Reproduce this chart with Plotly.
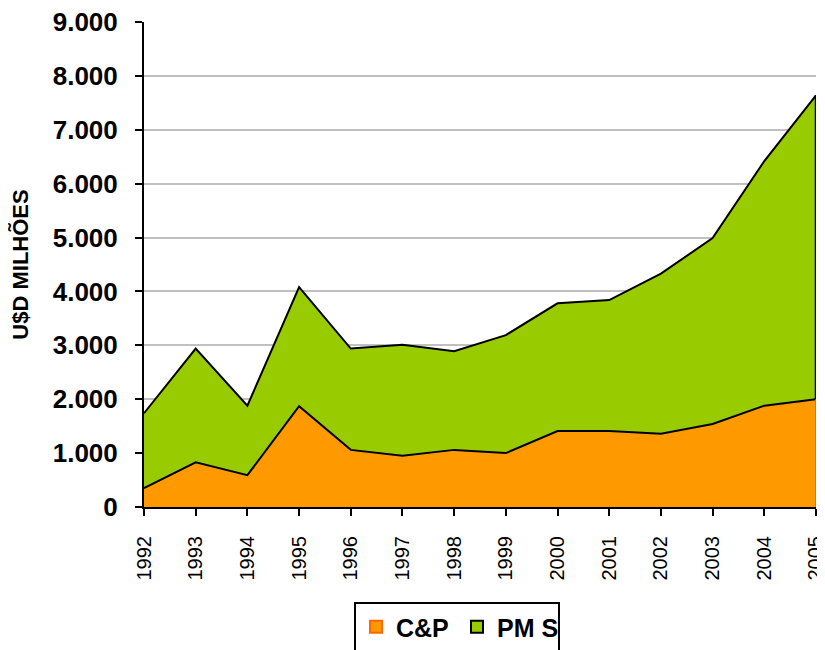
import plotly.graph_objects as go

years = list(range(1992, 2006))
cp = [350, 830, 590, 1870, 1060, 950, 1060, 1000, 1410, 1410, 1360, 1540, 1880, 2000]
total = [1740, 2940, 1880, 4080, 2940, 3010, 2890, 3190, 3780, 3840, 4330, 4990, 6420, 7640]
pms = [t - c for t, c in zip(total, cp)]
y_ticks = [0, 1000, 2000, 3000, 4000, 5000, 6000, 7000, 8000, 9000]

fig = go.Figure()
fig.add_trace(go.Scatter(x=years, y=cp, name="C&P", stackgroup="one", mode="lines",
                         line=dict(color="black", width=2), fillcolor="#FF9900",
                         showlegend=False))
fig.add_trace(go.Scatter(x=years, y=pms, name="PM S", stackgroup="one", mode="lines",
                         line=dict(color="black", width=2), fillcolor="#99CC00",
                         showlegend=False))
# closing edges of the areas at the last year
fig.add_trace(go.Scatter(x=[years[-1], years[-1]], y=[cp[-1], total[-1]], mode="lines",
                         line=dict(color="black", width=2.5), showlegend=False,
                         hoverinfo="skip"))
fig.add_trace(go.Scatter(x=[years[-1], years[-1]], y=[0, cp[-1]], mode="lines",
                         line=dict(color="#FF6600", width=2), showlegend=False,
                         hoverinfo="skip"))
# legend entries (square swatches)
fig.add_trace(go.Scatter(x=[None], y=[None], name="C&P", mode="markers",
                         marker=dict(symbol="square", size=14, color="#FF9900",
                                     line=dict(color="#FF6600", width=2))))
fig.add_trace(go.Scatter(x=[None], y=[None], name="PM S", mode="markers",
                         marker=dict(symbol="square", size=14, color="#99CC00",
                                     line=dict(color="black", width=2))))

fig.update_layout(
    width=825, height=650,
    margin=dict(l=136, r=17, t=14, b=151),
    paper_bgcolor="white", plot_bgcolor="white",
    separators=",.",
    font=dict(family="Liberation Sans, Arial, sans-serif", color="black"),
    showlegend=True,
    legend=dict(orientation="h", x=0.3125, xanchor="left",
                yref="container", y=0.086, yanchor="top",
                traceorder="normal",
                bordercolor="black", borderwidth=2,
                font=dict(size=25, family="Liberation Sans, Arial, sans-serif", weight="bold"),
                itemwidth=30, itemsizing="constant", entrywidth=56),
    xaxis=dict(range=[1992, 2005.0001], tickvals=years, ticktext=[str(y) for y in years],
               tickangle=-90, tickfont=dict(size=20), showgrid=False, automargin=False,
               showline=True, linecolor="black", linewidth=2,
               ticks="outside", ticklen=7, tickwidth=2, tickcolor="black",
               ticklabelstandoff=12, ticklabeloverflow="allow"),
    yaxis=dict(range=[0, 9000], tickvals=y_ticks, tickformat=",d",
               tickfont=dict(size=26, weight="bold"), automargin=False,
               showgrid=True, gridcolor="#c0c0c0", gridwidth=2,
               showline=True, linecolor="black", linewidth=2,
               ticks="outside", ticklen=7, tickwidth=2, tickcolor="black",
               ticklabelstandoff=12, ticklabeloverflow="allow",
               zeroline=False,
               title=dict(text="U$D MILHÕES", font=dict(size=22, weight="bold"), standoff=25)),
)

fig.write_html("out.html")
